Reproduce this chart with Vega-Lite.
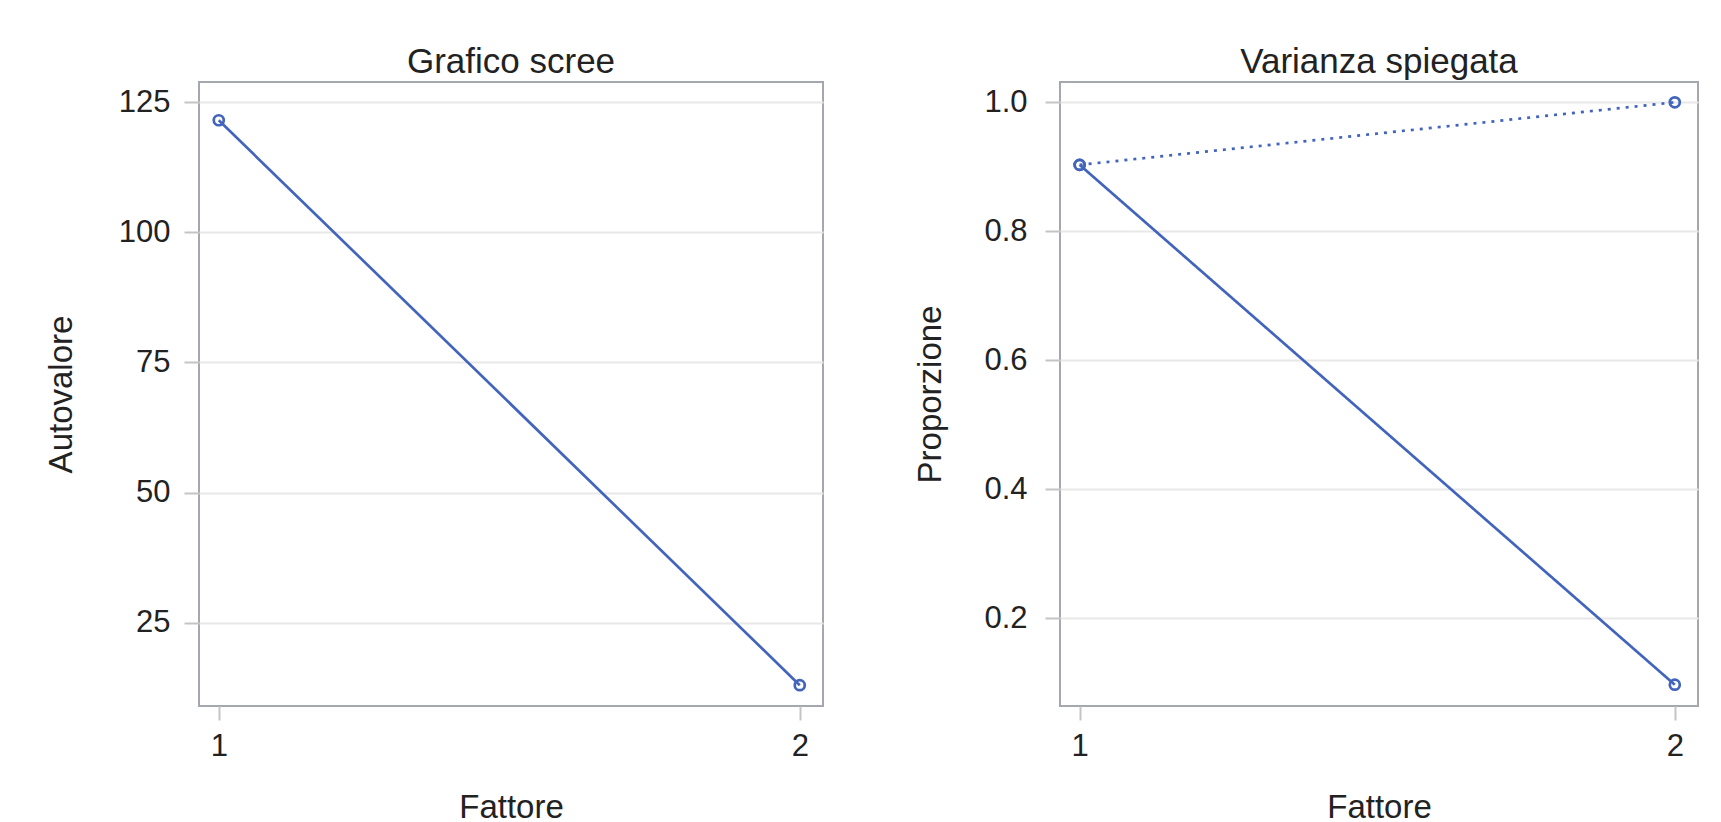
{
  "$schema": "https://vega.github.io/schema/vega-lite/v6.json",
  "background": "white",
  "padding": {"left": 44, "top": 43, "right": 0, "bottom": 0},
  "spacing": 89,
  "datasets": {
    "scree": [
      {"Fattore": 1, "Autovalore": 121.5},
      {"Fattore": 2, "Autovalore": 13.0}
    ],
    "varianza": [
      {"Fattore": 1, "Proporzione": 0.903, "Serie": "Proporzione"},
      {"Fattore": 2, "Proporzione": 0.097, "Serie": "Proporzione"},
      {"Fattore": 1, "Proporzione": 0.903, "Serie": "Cumulativa"},
      {"Fattore": 2, "Proporzione": 1.0, "Serie": "Cumulativa"}
    ]
  },
  "config": {
    "font": "Liberation Sans",
    "view": {"stroke": "#a4a8ae", "strokeWidth": 2},
    "axis": {
      "labelFont": "Liberation Sans",
      "titleFont": "Liberation Sans",
      "labelFontSize": 31,
      "titleFontSize": 33,
      "titleFontWeight": "normal",
      "labelColor": "#222222",
      "titleColor": "#222222",
      "domain": false,
      "tickColor": "#c4c4c4",
      "tickWidth": 2,
      "gridColor": "#e8e8e8",
      "gridWidth": 2
    },
    "title": {"fontSize": 35, "fontWeight": "normal", "color": "#222222", "font": "Liberation Sans", "offset": 2.5}
  },
  "hconcat": [
    {
      "width": 624,
      "height": 624,
      "title": "Grafico scree",
      "data": {"name": "scree"},
      "encoding": {
        "x": {"field": "Fattore", "type": "quantitative",
              "scale": {"domain": [0.966, 2.04], "nice": false, "zero": false},
              "axis": {"values": [1, 2], "format": "d", "grid": false, "tickSize": 14, "labelPadding": 11, "titlePadding": 30}},
        "y": {"field": "Autovalore", "type": "quantitative",
              "scale": {"domain": [9.0, 128.85], "nice": false, "zero": false},
              "axis": {"values": [25, 50, 75, 100, 125], "tickSize": 15, "labelPadding": 14, "titlePadding": 40}}
      },
      "layer": [
        {"mark": {"type": "line", "color": "#4264bc", "strokeWidth": 2.7}},
        {"mark": {"type": "point", "shape": "circle", "filled": false, "color": "#4264bc", "size": 100, "strokeWidth": 2.7, "opacity": 1}}
      ]
    },
    {
      "width": 638,
      "height": 624,
      "title": "Varianza spiegata",
      "data": {"name": "varianza"},
      "encoding": {
        "x": {"field": "Fattore", "type": "quantitative",
              "scale": {"domain": [0.967, 2.039], "nice": false, "zero": false},
              "axis": {"values": [1, 2], "format": "d", "grid": false, "tickSize": 14, "labelPadding": 11, "titlePadding": 30}},
        "y": {"field": "Proporzione", "type": "quantitative",
              "scale": {"domain": [0.064, 1.0315], "nice": false, "zero": false},
              "axis": {"values": [0.2, 0.4, 0.6, 0.8, 1.0], "format": ".1f", "tickSize": 15, "labelPadding": 18, "titlePadding": 36}}
      },
      "layer": [
        {"mark": {"type": "line", "color": "#4264bc", "strokeWidth": 2.7},
         "encoding": {"strokeDash": {"field": "Serie", "type": "nominal",
                      "scale": {"domain": ["Proporzione", "Cumulativa"], "range": [[1, 0], [3, 6]]}, "legend": null},
                      "detail": {"field": "Serie"}}},
        {"mark": {"type": "point", "shape": "circle", "filled": false, "color": "#4264bc", "size": 100, "strokeWidth": 2.7, "opacity": 1}}
      ]
    }
  ]
}
